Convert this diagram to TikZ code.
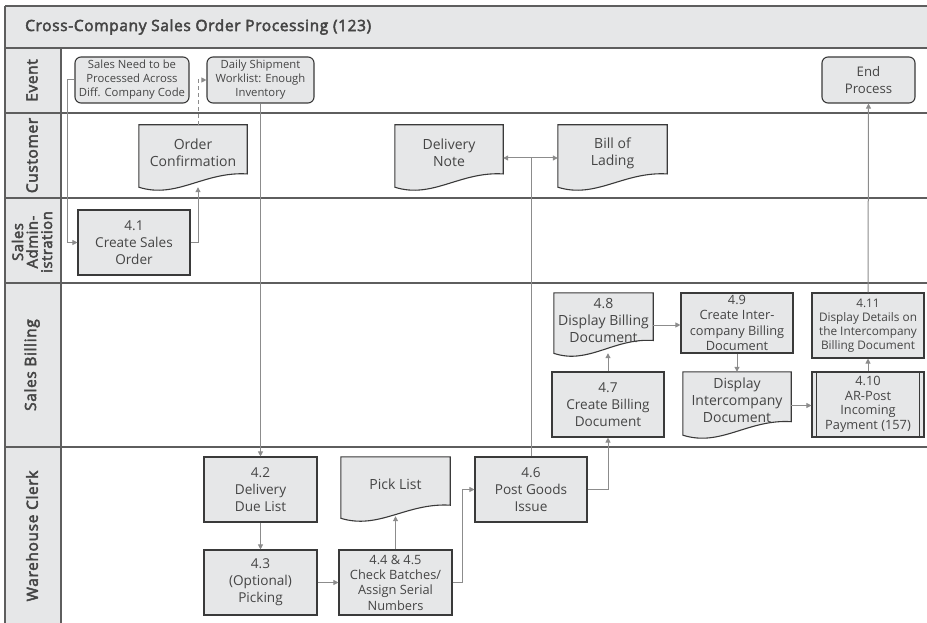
\documentclass[tikz,border=0pt]{standalone}
\usepackage{fontspec}
\setmainfont{Open Sans}
\newfontfamily\headfont{Open Sans}[FakeBold=3, LetterSpace=4]
\usetikzlibrary{arrows.meta,calc}

\definecolor{boxfill}{HTML}{E6E7E8}
\definecolor{boxline}{HTML}{3A3A3A}
\definecolor{flowgray}{HTML}{8C8C8C}
\definecolor{txt}{HTML}{454545}
\definecolor{laneline}{HTML}{5E5E5E}

\tikzset{
  x=1pt, y=-1pt,
  every node/.style={text=txt, align=center, inner sep=0pt},
  procbox/.style={draw=boxline, line width=1.1pt, fill=boxfill,
    font=\fontsize{13.6}{17}\selectfont},
  eventbox/.style={draw=boxline, line width=1.1pt, fill=boxfill,
    rounded corners=6pt, font=\fontsize{11.3}{14}\selectfont},
  docframe/.style={draw=none, fill=none},
  doctext/.style={font=\fontsize{14}{17}\selectfont},
  docoutline/.style={draw=boxline, line width=1.1pt, fill=boxfill},
  flow/.style={draw=flowgray, line width=1pt, -{Triangle[length=5pt,width=5pt]}},
  plainflow/.style={draw=flowgray, line width=1pt},
  lanesep/.style={draw=laneline, line width=1.4pt},
  lanelabel/.style={rotate=90, font=\headfont\fontsize{15.5}{14.5}\selectfont},
}

% document symbol: straight top and sides, wavy bottom edge
\newcommand\docshape[6]{%
  \node[docframe, minimum width=#4pt, minimum height=#5pt] (#1) at (#2,#3) {};
  \draw[docoutline]
    let \p1=(#1.north west), \p2=(#1.south east),
        \n1={\x2-\x1}, \n2={\y1-\y2} in
    (\x1,\y1) -- (\x2,\y1) -- (\x2,{\y2+0.26*\n2})
    .. controls ({\x1+0.6*\n1},{\y2+0.30*\n2}) and ({\x1+0.35*\n1},{\y2-0.12*\n2}) ..
    (\x1,{\y2+0.06*\n2}) -- cycle;
  \node[doctext] (#1-t) at ($(#1.center)+(0,-5)$) {#6};
}

\begin{document}
\begin{tikzpicture}
\useasboundingbox (0,0) rectangle (927,623);

% ---- swimlane frame ----
\fill[boxfill] (5,6) rectangle (935,48);
\fill[boxfill] (5,48) rectangle (61,630);
\draw[lanesep] (5,6) -- (935,6);
\draw[lanesep] (5,6) -- (5,630);
\draw[lanesep] (61,48) -- (61,630);
\foreach \yy in {48,113,198,283,447} {
  \draw[lanesep] (5,\yy) -- (935,\yy);
}

\node[anchor=west, font=\headfont\fontsize{15.5}{17}\selectfont] (title) at (25,27)
  {Cross-Company Sales Order Processing (123)};

\node[lanelabel] (lane-ev) at (32,80.5) {Event};
\node[lanelabel] (lane-cu) at (32,155.5) {Customer};
\node[lanelabel, font=\headfont\fontsize{14.8}{14.5}\selectfont] (lane-sa) at (32,242) {Sales\\Admin-\\istration};
\node[lanelabel] (lane-sb) at (32,365) {Sales Billing};
\node[lanelabel] (lane-wc) at (32,536) {Warehouse Clerk};

% ---- events ----
\node[eventbox, minimum width=114pt, minimum height=46pt] (sn) at (132,80)
  {Sales Need to be\\Processed Across\\Diff. Company Code};
\node[eventbox, minimum width=107pt, minimum height=46pt] (ds) at (260.5,80)
  {Daily Shipment\\Worklist: Enough\\Inventory};
\node[eventbox, minimum width=93pt, minimum height=46pt,
  font=\fontsize{13.2}{17}\selectfont] (ep) at (868.5,80) {End\\Process};

% ---- customer documents ----
\docshape{oc}{193}{158}{108}{66}{Order\\Confirmation}
\docshape{dn}{449}{158}{108}{66}{Delivery\\Note}
\docshape{bl}{612.5}{158}{109}{66}{Bill of\\Lading}

% ---- sales administration ----
\node[procbox, minimum width=112pt, minimum height=65pt] (p41) at (134,242.5)
  {4.1\\Create Sales\\Order};

% ---- sales billing ----
\docshape{p48}{603.5}{325}{99}{64}{4.8\\Display Billing\\Document}
\node[procbox, minimum width=112pt, minimum height=60pt,
  font=\fontsize{12.8}{15.3}\selectfont] (p49) at (737,323)
  {4.9\\Create Inter-\\company Billing\\Document};
\node[procbox, minimum width=112pt, minimum height=65pt,
  font=\fontsize{11.8}{14}\selectfont] (p411) at (868,325.5)
  {4.11\\Display Details on\\the Intercompany\\Billing Document};
\node[procbox, minimum width=112pt, minimum height=65pt] (p47) at (608,404.5)
  {4.7\\Create Billing\\Document};
\docshape{dic}{737}{405.5}{108}{67}{Display\\Intercompany\\Document}
\node[procbox, minimum width=112pt, minimum height=65pt,
  font=\fontsize{12.8}{14.5}\selectfont] (p410) at (868,404.5)
  {4.10\\AR-Post\\Incoming\\Payment (157)};
\draw[boxline, line width=1.1pt] ($(p410.north west)+(5,0)$) -- ($(p410.south west)+(5,0)$);
\draw[boxline, line width=1.1pt] ($(p410.north east)+(-5,0)$) -- ($(p410.south east)+(-5,0)$);

% ---- warehouse ----
\node[procbox, minimum width=113pt, minimum height=65pt] (p42) at (260.5,489.5)
  {4.2\\Delivery\\Due List};
\node[procbox, minimum width=113pt, minimum height=65pt] (p43) at (260.5,582.5)
  {4.3\\(Optional)\\Picking};
\docshape{pl}{395.5}{489.5}{109}{65}{Pick List}
\node[procbox, minimum width=113pt, minimum height=65pt,
  font=\fontsize{12.8}{15.3}\selectfont] (p445) at (395.5,582.5)
  {4.4 \& 4.5\\Check Batches/\\Assign Serial\\Numbers};
\node[procbox, minimum width=112pt, minimum height=65pt] (p46) at (531,489.5)
  {4.6\\Post Goods\\Issue};

% ---- connectors ----
\draw[flow] (sn.west) -- ++(-7,0) |- (p41.west);
\draw[flow] (p41.east) -| ($(oc.south)+(5,-4)$);
\draw[flow, dashed, dash pattern=on 4pt off 3pt] ($(oc.north)+(5,0)$) |- (ds.west);
\draw[flow] (ds.south) -- (p42.north);
\draw[flow] (p42.south) -- (p43.north);
\draw[flow] (p43.east) -- (p445.west);
\draw[flow] (p445.north) -- ($(pl.south)+(0,-6)$);
\draw[flow] (p445.east) -- ++(10,0) |- (p46.west);
\draw[flow] (p46.east) -| (p47.south);
\draw[plainflow] (p46.north) -- (p46.north |- dn.east);
\draw[flow, {Triangle[length=5pt,width=5pt]}-{Triangle[length=5pt,width=5pt]}] (dn.east) -- (bl.west);
\draw[flow] (p47.north) -- ($(p47.north |- p48.south)+(0,-4)$);
\draw[flow] (p48.east) -- (p48.east -| p49.west);
\draw[flow] (p49.south) -- (dic.north);
\draw[flow] (dic.east) -- (dic.east -| p410.west);
\draw[flow] (p410.north) -- (p411.south);
\draw[flow] (p411.north) -- (ep.south);
\end{tikzpicture}
\end{document}
